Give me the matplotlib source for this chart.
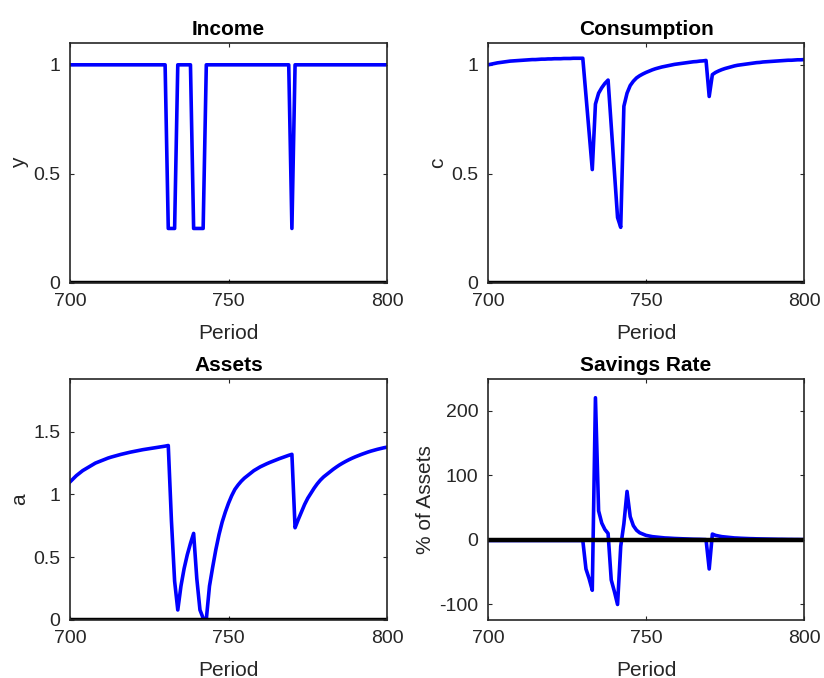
import numpy as np
import matplotlib
matplotlib.use("Agg")
import matplotlib.pyplot as plt

# simulated periods shown on every panel
periods = np.arange(700, 801)

income = [
    1, 1, 1, 1, 1, 1, 1, 1, 1, 1,
    1, 1, 1, 1, 1, 1, 1, 1, 1, 1,
    1, 1, 1, 1, 1, 1, 1, 1, 1, 1,
    1, 0.25, 0.25, 0.25, 1, 1, 1, 1, 1, 0.25,
    0.25, 0.25, 0.25, 1, 1, 1, 1, 1, 1, 1,
    1, 1, 1, 1, 1, 1, 1, 1, 1, 1,
    1, 1, 1, 1, 1, 1, 1, 1, 1, 1,
    0.25, 1, 1, 1, 1, 1, 1, 1, 1, 1,
    1, 1, 1, 1, 1, 1, 1, 1, 1, 1,
    1, 1, 1, 1, 1, 1, 1, 1, 1, 1,
    1,
]

consumption = [
    1.000, 1.003, 1.006, 1.009, 1.011, 1.013, 1.015, 1.017, 1.018, 1.019,
    1.020, 1.021, 1.022, 1.023, 1.024, 1.024, 1.025, 1.026, 1.026, 1.027,
    1.027, 1.028, 1.028, 1.028, 1.029, 1.029, 1.029, 1.030, 1.030, 1.030,
    1.030, 0.860, 0.690, 0.520, 0.820, 0.870, 0.895, 0.915, 0.930, 0.720,
    0.510, 0.300, 0.255, 0.810, 0.870, 0.905, 0.925, 0.940, 0.950, 0.958,
    0.965, 0.971, 0.977, 0.982, 0.986, 0.990, 0.993, 0.996, 0.999, 1.002,
    1.004, 1.006, 1.008, 1.010, 1.012, 1.014, 1.015, 1.017, 1.018, 1.020,
    0.855, 0.955, 0.965, 0.972, 0.978, 0.983, 0.987, 0.991, 0.995, 0.998,
    1.000, 1.002, 1.004, 1.006, 1.008, 1.010, 1.011, 1.013, 1.014, 1.015,
    1.016, 1.017, 1.018, 1.019, 1.020, 1.021, 1.021, 1.022, 1.023, 1.023,
    1.024,
]

assets = [
    1.100, 1.125, 1.150, 1.170, 1.190, 1.205, 1.220, 1.235, 1.250, 1.260,
    1.270, 1.280, 1.290, 1.298, 1.305, 1.312, 1.319, 1.325, 1.331, 1.337,
    1.342, 1.347, 1.352, 1.357, 1.361, 1.365, 1.369, 1.373, 1.377, 1.381,
    1.385, 1.390, 0.790, 0.310, 0.080, 0.270, 0.410, 0.520, 0.610, 0.690,
    0.330, 0.080, 0.015, 0.005, 0.270, 0.420, 0.560, 0.680, 0.780, 0.860,
    0.930, 0.990, 1.040, 1.075, 1.105, 1.130, 1.150, 1.170, 1.190, 1.205,
    1.220, 1.232, 1.244, 1.255, 1.265, 1.275, 1.285, 1.294, 1.303, 1.312,
    1.320, 0.735, 0.800, 0.860, 0.920, 0.970, 1.010, 1.050, 1.085, 1.115,
    1.140, 1.160, 1.180, 1.200, 1.218, 1.235, 1.250, 1.264, 1.277, 1.289,
    1.300, 1.310, 1.320, 1.329, 1.338, 1.346, 1.353, 1.360, 1.366, 1.372,
    1.377,
]

savings_rate = [
    -1, -1, -1, -1, -1, -1, -1, -1, -1, -1,
    -1, -1, -1, -1, -1, -1, -1, -1, -1, -1,
    -1, -1, -1, -1, -1, -1, -1, -1, -1, -1,
    -1, -45, -60, -78, 220, 45, 26, 16, 10, -62,
    -80, -100, -10, 25, 75, 36, 22, 15, 11, 9,
    7, 6, 5, 4.5, 4, 3.5, 3, 2.8, 2.5, 2.2,
    2, 1.8, 1.6, 1.4, 1.2, 1.0, 0.9, 0.8, 0.6, 0.4,
    -45, 9, 7, 6, 5, 4.5, 4, 3.5, 3, 2.8,
    2.5, 2.3, 2.1, 1.9, 1.8, 1.6, 1.5, 1.4, 1.3, 1.2,
    1.1, 1.0, 0.9, 0.9, 0.8, 0.7, 0.7, 0.6, 0.6, 0.5,
    0.5,
]

panels = [
    ("Income", "y", income, (0, 1.1), [0, 0.5, 1], ["0", "0.5", "1"]),
    ("Consumption", "c", consumption, (0, 1.1), [0, 0.5, 1], ["0", "0.5", "1"]),
    ("Assets", "a", assets, (0, 1.92), [0, 0.5, 1, 1.5], ["0", "0.5", "1", "1.5"]),
    ("Savings Rate", "% of Assets", savings_rate, (-124, 249), [-100, 0, 100, 200],
     ["-100", "0", "100", "200"]),
]

plt.rcParams['font.family'] = ['Liberation Sans', 'DejaVu Sans']
ink = (0.15, 0.15, 0.15)

fig = plt.figure(figsize=(8.24, 6.78), dpi=100)
boxes = [
    [70 / 824, 1 - 283 / 678, 317 / 824, 240 / 678],
    [488 / 824, 1 - 283 / 678, 316 / 824, 240 / 678],
    [70 / 824, 1 - 620 / 678, 317 / 824, 241 / 678],
    [488 / 824, 1 - 620 / 678, 316 / 824, 241 / 678],
]

for box, (title, ylab, values, ylim, yticks, yticklabels) in zip(boxes, panels):
    ax = fig.add_axes(box)
    ax.plot(periods, values, color=(0, 0, 1), lw=2.6, solid_joinstyle='round')
    ax.axhline(0, color='black', lw=3.2)
    ax.set_xlim(700, 800)
    ax.set_ylim(*ylim)
    ax.set_xticks([700, 750, 800])
    ax.set_yticks(yticks)
    ax.set_yticklabels(yticklabels)
    ax.set_title(title, fontsize=15, fontweight='bold', color='black', pad=6)
    ax.set_xlabel("Period", fontsize=15, color=ink, labelpad=10)
    ax.set_ylabel(ylab, fontsize=15, color=ink, labelpad=3)
    ax.tick_params(direction='in', length=3, width=0.8, colors=ink,
                   labelsize=14, top=True, right=True, pad=7)
    for sp in ax.spines.values():
        sp.set_color(ink)
        sp.set_linewidth(1.2)

fig.savefig("out.png", dpi=100)
